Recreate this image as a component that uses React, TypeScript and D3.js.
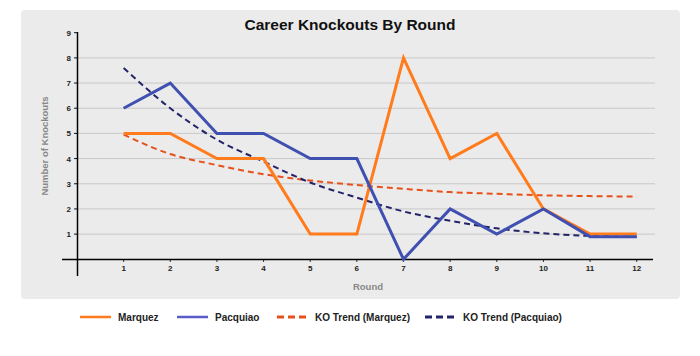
import React from "react";
import * as d3 from "d3";

const rounds = [1, 2, 3, 4, 5, 6, 7, 8, 9, 10, 11, 12];
const marquez = [5, 5, 4, 4, 1, 1, 8, 4, 5, 2, 1, 1];
const pacquiao = [6, 7, 5, 5, 4, 4, 0, 2, 1, 2, 0.9, 0.9];
const trendMarquez = [4.95, 4.18, 3.74, 3.38, 3.13, 2.95, 2.8, 2.67, 2.6, 2.54, 2.51, 2.49];
const trendPacquiao = [7.6, 6.0, 4.75, 3.88, 3.05, 2.45, 1.9, 1.53, 1.23, 1.03, 0.93, 0.9];
const yTicks = [1, 2, 3, 4, 5, 6, 7, 8, 9];
const gridValues = [1, 2, 3, 4, 5, 6, 7, 8];

const FONT = "'Liberation Sans', Arial, Helvetica, sans-serif";

export default function App() {
  const x = d3.scaleLinear().domain([0, 12]).range([77, 636.7]);
  const y = d3.scaleLinear().domain([0, 9]).range([259.3, 32.7]);

  const solid = d3
    .line<number>()
    .x((_, i) => x(rounds[i]))
    .y((d) => y(d));
  const smooth = d3
    .line<number>()
    .x((_, i) => x(rounds[i]))
    .y((d) => y(d))
    .curve(d3.curveMonotoneX);

  const series = [
    { name: "Marquez", data: marquez, color: "#ff7b1c", legend: "#ff7b1c", width: 3, dash: null, gen: solid },
    { name: "Pacquiao", data: pacquiao, color: "#4050b0", legend: "#5a5ac8", width: 3, dash: null, gen: solid },
    { name: "KO Trend (Marquez)", data: trendMarquez, color: "#e8501a", legend: "#e8501a", width: 2, dash: "6,4", gen: smooth },
    { name: "KO Trend (Pacquiao)", data: trendPacquiao, color: "#23236a", legend: "#23236a", width: 2, dash: "6,4", gen: smooth },
  ];
  const drawOrder = [series[2], series[3], series[0], series[1]];
  const legendX = [80, 177, 277, 425];

  return (
    <svg width={700} height={356} style={{ position: "absolute", left: 0, top: 0 }}>
      <rect x={0} y={0} width={700} height={356} fill="#ffffff" />
      <rect x={21} y={10} width={659} height={289} rx={4} fill="#ebebeb" />
      <text x={350} y={30} textAnchor="middle" fontFamily={FONT} fontWeight="bold" fontSize={15.5} fill="#111">
        Career Knockouts By Round
      </text>
      {gridValues.map((v) => (
        <line key={v} x1={77} x2={655} y1={y(v)} y2={y(v)} stroke="#c8c8c8" strokeWidth={1} />
      ))}
      {yTicks.map((v) => (
        <g key={v}>
          <line x1={74} x2={77} y1={y(v)} y2={y(v)} stroke="#111" strokeWidth={1} />
          <text x={71} y={y(v) + 3} textAnchor="end" fontFamily={FONT} fontWeight="bold" fontSize={8} fill="#222">
            {v}
          </text>
        </g>
      ))}
      {rounds.map((r) => (
        <g key={r}>
          <line x1={x(r)} x2={x(r)} y1={259} y2={262} stroke="#333" strokeWidth={1} />
          <text x={x(r)} y={271} textAnchor="middle" fontFamily={FONT} fontWeight="bold" fontSize={8} fill="#222">
            {r}
          </text>
        </g>
      ))}
      <line x1={62} x2={653} y1={259.5} y2={259.5} stroke="#000" strokeWidth={1.5} />
      <line x1={77.5} x2={77.5} y1={32} y2={276} stroke="#000" strokeWidth={1.5} />
      <text
        transform={`translate(48,146) rotate(-90)`}
        textAnchor="middle"
        fontFamily={FONT}
        fontWeight="bold"
        fontSize={9.5}
        fill="#888"
      >
        Number of Knockouts
      </text>
      <text x={368} y={290} textAnchor="middle" fontFamily={FONT} fontWeight="bold" fontSize={9.5} fill="#888">
        Round
      </text>
      {drawOrder.map((s) => (
        <path
          key={s.name}
          d={s.gen(s.data) || ""}
          fill="none"
          stroke={s.color}
          strokeWidth={s.width}
          strokeDasharray={s.dash || undefined}
          strokeLinejoin="miter"
        />
      ))}
      {series.map((s, i) => (
        <g key={s.name}>
          <line
            x1={legendX[i]}
            x2={legendX[i] + 31}
            y1={317}
            y2={317}
            stroke={s.legend}
            strokeWidth={s.dash ? 3 : 2.5}
            strokeDasharray={s.dash ? "7,4" : undefined}
          />
          <text x={legendX[i] + 38} y={321} fontFamily={FONT} fontWeight="bold" fontSize={10} fill="#222">
            {s.name}
          </text>
        </g>
      ))}
    </svg>
  );
}
